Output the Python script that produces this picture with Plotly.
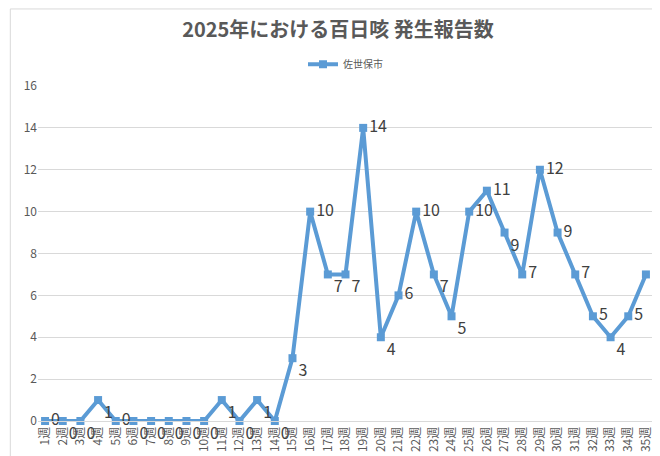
import plotly.graph_objects as go

weeks = [f"{i}週" for i in range(1, 36)]
values = [0,0,0,1,0,0,0,0,0,0,1,0,1,0,3,10,7,7,14,4,6,10,7,5,10,11,9,7,12,9,7,5,4,5,7]
positions = ["middle right"]*35
for i in [1,2,3,5,6,7,8,9,10,11,12,13,14,16,17,19,22,23,26,32]:
    positions[i] = "bottom right"

fig = go.Figure(go.Scatter(
    x=weeks, y=values, mode="lines+markers+text", name="佐世保市",
    line=dict(color="#5b9bd5", width=4), marker=dict(symbol="square", size=8, color="#5b9bd5"),
    text=[str(v) for v in values], textposition=positions,
    textfont=dict(size=16, color="#404040"), cliponaxis=False))

fig.update_layout(
    width=660, height=456, paper_bgcolor="white", plot_bgcolor="white",
    font=dict(family="Noto Sans CJK JP", color="#595959"),
    title=dict(text="<b>2025年における百日咳 発生報告数</b>", x=0.5, y=0.952, xanchor="center", yanchor="middle",
               font=dict(size=20, color="#595959")),
    showlegend=True,
    legend=dict(orientation="h", x=0.5, xanchor="center", y=1.065, yanchor="middle", font=dict(size=10)),
    margin=dict(l=30, r=15, t=78, b=43, autoexpand=False),
    xaxis=dict(tickangle=-90, tickfont=dict(size=12), showline=True, linecolor="#d9d9d9", showgrid=False,
               range=[-0.4, 34.4], automargin=False),
    yaxis=dict(range=[0, 16], dtick=2, gridcolor="#d9d9d9", zeroline=False, tickfont=dict(size=12), automargin=False),
    shapes=[dict(type="rect", xref="paper", yref="paper", x0=-0.045, x1=1.022, y0=-0.125, y1=1.23,
                 line=dict(color="#d9d9d9", width=1))],
)
fig.write_html("out.html")
